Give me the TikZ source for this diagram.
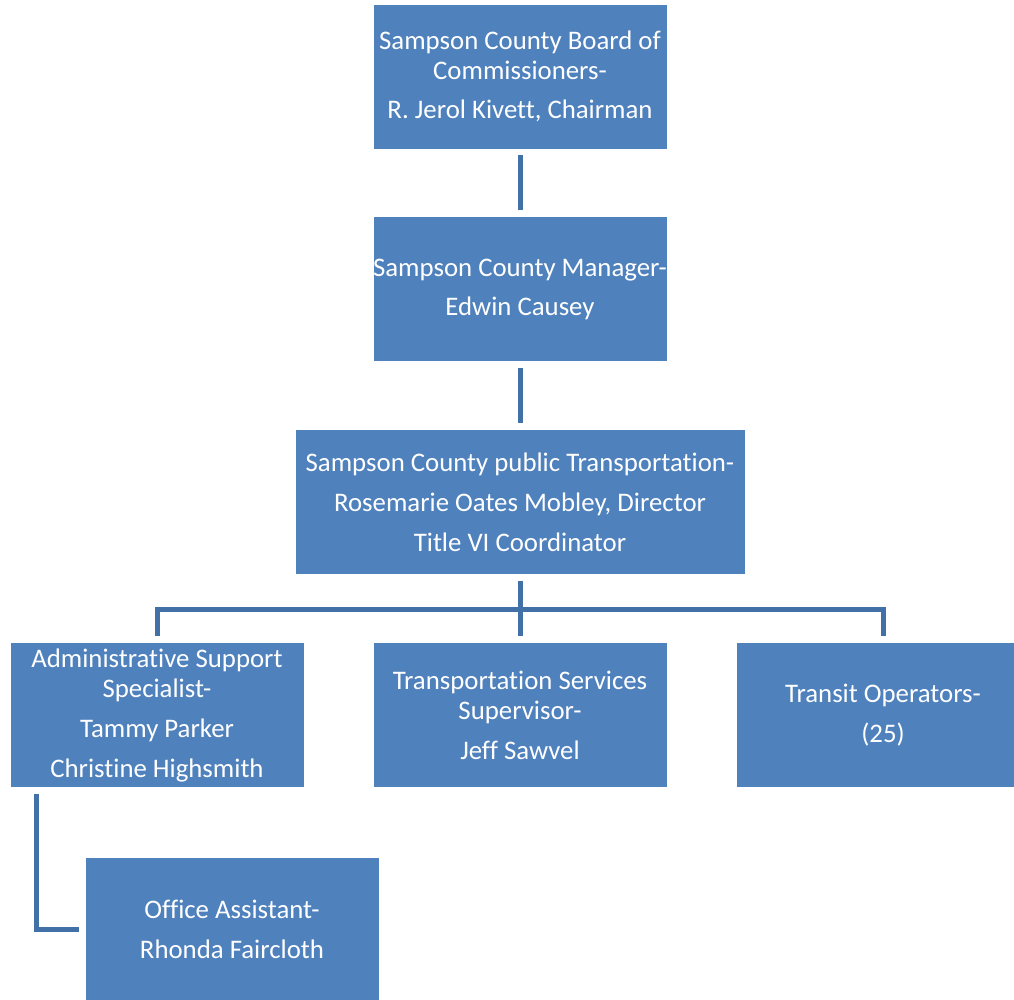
\documentclass[tikz,border=0pt]{standalone}
\usepackage{fontspec}
\setmainfont[Ligatures=NoCommon]{Carlito}
\definecolor{boxblue}{HTML}{4F81BD}
\definecolor{lineblue}{HTML}{4271A8}
\begin{document}
\begin{tikzpicture}[x=1pt,y=-1pt,
  box/.style={fill=boxblue, draw=white, line width=0.8pt, text=white, align=center,
    inner sep=0pt, minimum height=145pt, minimum width=294pt,
    font=\fontsize{26.8}{30}\selectfont},
  conn/.style={draw=lineblue, line width=5pt, line join=miter}]
\useasboundingbox (0,0) rectangle (1014,999);
\clip (0,0) rectangle (1014,999);
\node[box] (b1) at (520,76.5) {Sampson County Board of\\Commissioners-\\[9pt]R. Jerol Kivett, Chairman};
\node[box] (b2) at (520,289) {Sampson County Manager-\\[9pt]Edwin Causey};
\node[box, minimum width=450pt] (b3) at (520,502) {Sampson County public Transportation-\\[10pt]Rosemarie Oates Mobley, Director\\[10pt]Title VI Coordinator};
\node[box] (b4) at (157,715) {Administrative Support\\Specialist-\\[10pt]Tammy Parker\\[10pt]Christine Highsmith};
\node[box] (b5) at (520,715) {Transportation Services\\Supervisor-\\[10pt]Jeff Sawvel};
\node[box] (b6) at (883,715) {Transit Operators-\\[10pt](25)};
\node[box] (b7) at (232,929.5) {Office Assistant-\\[10pt]Rhonda Faircloth};
\draw[conn, shorten <=6pt, shorten >=6pt] (b1) -- (b2);
\draw[conn, shorten <=6pt, shorten >=6pt] (b2) -- (b3);
\coordinate (bus) at ([yshift=33pt]b5.north);
\draw[conn, shorten <=6pt] (b3.south) -- (bus);
\draw[conn] ([yshift=6pt]b4.north) |- (bus) -| ([yshift=6pt]b6.north);
\draw[conn] (bus) -- ([yshift=6pt]b5.north);
\draw[conn] ([xshift=27pt,yshift=-6pt]b4.south west) |- ([xshift=-6pt]b7.west);
\end{tikzpicture}
\end{document}
